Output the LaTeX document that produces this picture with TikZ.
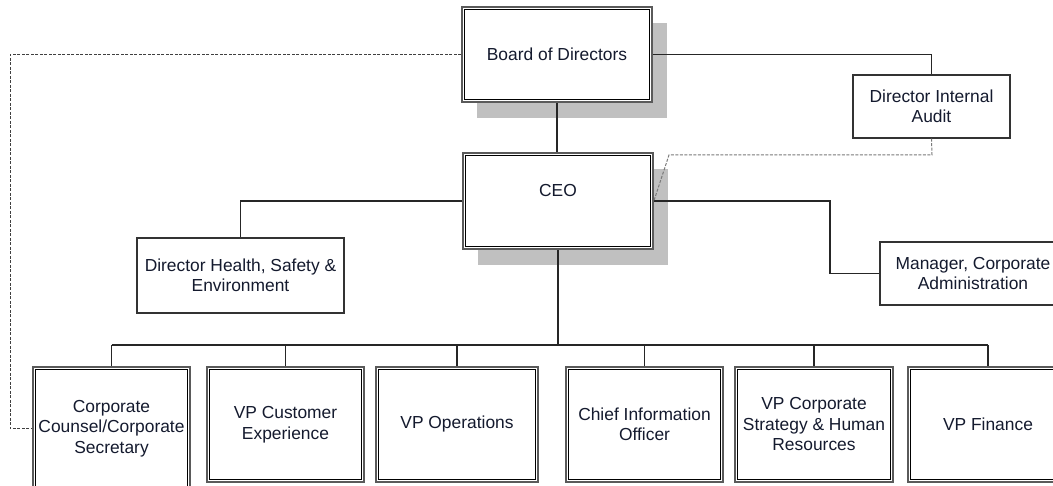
\documentclass[tikz,border=0pt]{standalone}
\usepackage{fontspec}
\setmainfont{Liberation Sans}
\usetikzlibrary{calc}
\definecolor{shadowgray}{HTML}{C0C0C0}
\definecolor{outerline}{HTML}{5A5A5A}
\definecolor{linkgray}{HTML}{7A7A7A}
\definecolor{inkblue}{HTML}{141A2E}
\tikzset{
  box/.style={draw=black!80, line width=1.1pt, fill=white, align=center,
    inner sep=0pt, text=inkblue,
    font=\fontsize{17.4}{20.5}\selectfont},
  dbox/.style={box, draw=outerline, line width=1.7pt},
  shadowed/.style={preaction={fill=shadowgray,
    transform canvas={xshift=15pt,yshift=-16pt}}},
  innerline/.style={draw=black, line width=1pt},
  link/.style={draw=black!85, line width=1.1pt},
  dotted link/.style={draw=black!75, line width=1pt, dash pattern=on 3pt off 1.5pt},
  soft link/.style={draw=linkgray, line width=1pt, dash pattern=on 3pt off 1.5pt},
}
\begin{document}
\begin{tikzpicture}[x=1pt,y=-1pt]
\clip (0,0) rectangle (1053,486);
\fill[white] (0,0) rectangle (1053,486);

% top of the chart
\node[dbox, shadowed, minimum width=190pt, minimum height=95pt] (bod) at (557,54.5) {Board of Directors};
\node[dbox, shadowed, minimum width=190pt, minimum height=96pt, text depth=22pt] (ceo) at (558,201) {CEO};

% staff positions
\node[box, minimum width=157pt, minimum height=63pt] (aud) at (931.5,106.5) {Director Internal\\Audit};
\node[box, minimum width=207pt, minimum height=75pt] (hse) at (240.5,275.5) {Director Health, Safety \&\\Environment};
\node[box, minimum width=186pt, minimum height=63pt] (mgr) at (973,273.5) {Manager, Corporate\\Administration};

% direct reports of the CEO
\node[dbox, minimum width=157pt, minimum height=123pt] (cc) at (111.5,428.5) {Corporate\\Counsel/Corporate\\Secretary};
\node[dbox, minimum width=157pt, minimum height=115pt] (vpc) at (285.5,424.5) {VP Customer\\Experience};
\node[dbox, minimum width=162pt, minimum height=115pt] (vpo) at (457,424.5) {VP Operations};
\node[dbox, minimum width=157pt, minimum height=115pt] (cio) at (644.5,424.5) {Chief Information\\Officer};
\node[dbox, minimum width=158pt, minimum height=115pt] (vps) at (814,424.5) {VP Corporate\\Strategy \& Human\\Resources};
\node[dbox, minimum width=160pt, minimum height=115pt] (vpf) at (988,424.5) {VP Finance};

% inner rule of the double-framed boxes
\foreach \n in {bod,ceo,cc,vpc,vpo,cio,vps,vpf}
  \draw[innerline] ([xshift=3pt,yshift=-3pt]\n.north west) rectangle ([xshift=-3pt,yshift=3pt]\n.south east);

% solid reporting lines
\draw[link] (bod.south) -- (bod.south |- ceo.north);
\draw[link] (bod.east) -| (aud.north);
\draw[link] (ceo.west) -| (hse.north);
\coordinate (mgrbend) at (830,273.5);
\draw[link] (ceo.east) -| (mgrbend) -- (mgr.west);

\coordinate (bus) at (558,345);
\draw[link] (ceo.south) -- (bus);
\draw[link] (cc.north |- bus) -- (vpf.north |- bus);
\foreach \c in {cc,vpc,vpo,cio,vps,vpf}
  \draw[link] (\c.north) -- (\c.north |- bus);

% dashed advisory lines
\coordinate (cclink) at (10,54.5);
\draw[dotted link] (bod.west) -- (cclink) |- (cc.west);
\coordinate (aud1) at (932,155);
\coordinate (aud2) at (669,155);
\draw[soft link] (aud.south) -- (aud1) -- (aud2) -- (ceo.east);
\end{tikzpicture}
\end{document}
